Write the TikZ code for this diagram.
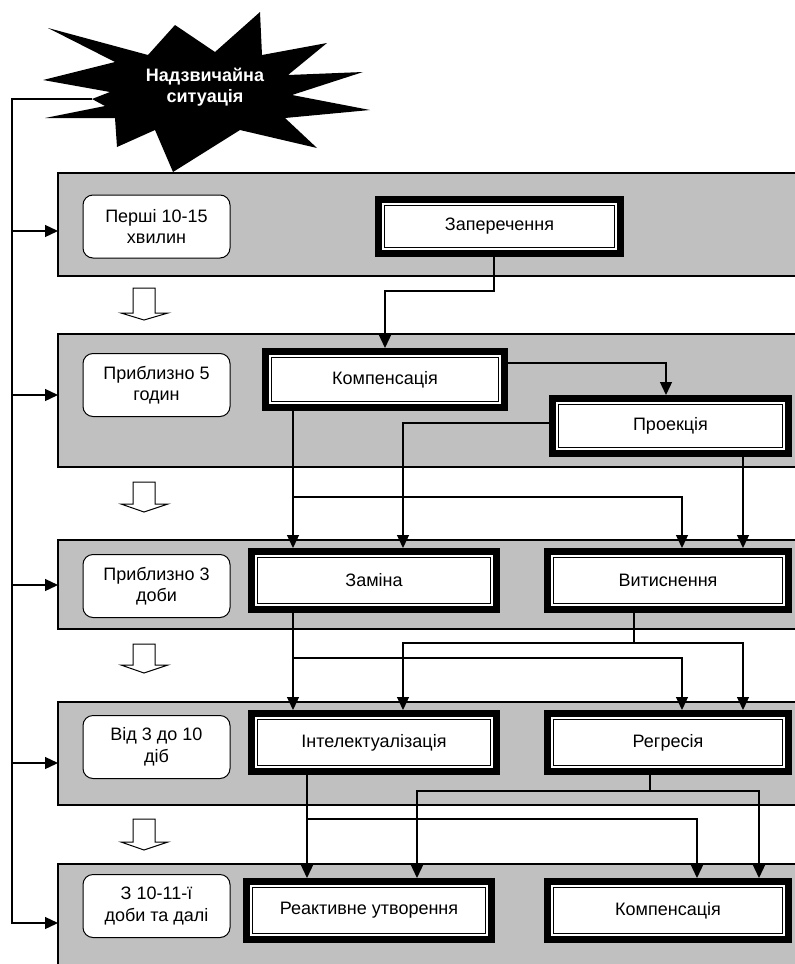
\documentclass[tikz,border=0pt]{standalone}
\usepackage{fontspec}
\setmainfont{Liberation Sans}
\usetikzlibrary{arrows.meta,calc}
\definecolor{bandgray}{RGB}{192,192,192}
\begin{document}
\begin{tikzpicture}[x=1pt,y=-1pt,
  every node/.style={font=\fontsize{18}{21.5}\selectfont},
  band/.style={rectangle, draw=black, fill=bandgray, line width=1.2pt, inner sep=0pt, outer sep=0pt, anchor=north west},
  tbox/.style={rectangle, draw=black, fill=white, rounded corners=10pt, line width=1pt, minimum width=147pt, minimum height=63pt, align=center, inner sep=0pt},
  mbox/.style={rectangle, inner sep=0pt, outer sep=9.5pt, fill=white, draw=black, line width=1pt, align=center,
    preaction={draw=black, line width=19pt},
    preaction={draw=white, line width=5pt}},
  conn/.style={draw=black, line width=1.3pt},
  arr/.style={conn, -{Triangle[length=13pt,width=12pt]}},
  hollow/.style={draw=black, fill=white, line width=1pt, line join=miter}
]
\useasboundingbox (0,0) rectangle (795,964);

% bands
\node[band, minimum width=745pt, minimum height=103pt] (b1) at (58,173) {};
\node[band, minimum width=745pt, minimum height=133pt] (b2) at (58,334) {};
\node[band, minimum width=745pt, minimum height=89pt] (b3) at (58,540) {};
\node[band, minimum width=745pt, minimum height=103pt] (b4) at (58,702) {};
\node[band, minimum width=745pt, minimum height=115pt] (b5) at (58,864) {};

% starburst
\fill[black] (48,28) -- (148,55) -- (175,25) -- (215,52) -- (260,12) -- (262,55) -- (327,43)
  -- (288,75) -- (363,72) -- (292,95) -- (370,110) -- (285,118) -- (317,148) -- (240,130)
  -- (173,172) -- (155,130) -- (117,147) -- (115,118) -- (45,118) -- (105,106) -- (92,99)
  -- (110,92) -- (43,80) -- (115,62) -- cycle;
\coordinate (burstL) at (92,99);
\node[font=\fontsize{18}{21.5}\selectfont\bfseries, text=white, align=center] (emerg) at (205,87) {Надзвичайна\\ситуація};

% time boxes
\node[tbox] (t1) at (156.5,226.5) {Перші 10-15\\хвилин};
\node[tbox] (t2) at (156.5,385) {Приблизно 5\\годин};
\node[tbox] (t3) at (156.5,586) {Приблизно 3\\доби};
\node[tbox] (t4) at (156.5,747) {Від 3 до 10\\діб};
\node[tbox] (t5) at (156.5,906) {З 10-11-ї\\доби та далі};

% mechanism boxes
\node[mbox, minimum width=230pt, minimum height=42pt] (zap) at (499.5,226.5) {Заперечення};
\node[mbox, minimum width=227pt, minimum height=44pt] (komp1) at (385,379.5) {Компенсація};
\node[mbox, minimum width=224pt, minimum height=43pt] (proek) at (670.5,426) {Проекція};
\node[mbox, minimum width=233pt, minimum height=46pt] (zamina) at (374,580.5) {Заміна};
\node[mbox, minimum width=229pt, minimum height=46pt] (vytys) at (668,580.5) {Витиснення};
\node[mbox, minimum width=233pt, minimum height=46pt] (intel) at (374,742.5) {Інтелектуалізація};
\node[mbox, minimum width=229pt, minimum height=46pt] (regr) at (668,742.5) {Регресія};
\node[mbox, minimum width=233pt, minimum height=46pt] (react) at (369,910.5) {Реактивне утворення};
\node[mbox, minimum width=229pt, minimum height=46pt] (komp2) at (668,910.5) {Компенсація};

% hollow block arrows
\draw[hollow] (133,288) -- (155,288) -- (155,313) -- (168,313) -- (144,320) -- (121,313) -- (133,313) -- cycle;
\draw[hollow] (133,482) -- (155,482) -- (155,504) -- (168,504) -- (144,512) -- (121,504) -- (133,504) -- cycle;
\draw[hollow] (133,644) -- (155,644) -- (155,665) -- (168,665) -- (144,673) -- (121,665) -- (133,665) -- cycle;
\draw[hollow] (133,819) -- (155,819) -- (155,842) -- (168,842) -- (144,850) -- (121,842) -- (133,842) -- cycle;

% left feed line
\draw[arr] (burstL) -- (12,99) -- (12,923) -- (b5.west |- 0,923);
\draw[arr] (12,231) -- (b1.west |- 0,231);
\draw[arr] (12,395) -- (b2.west |- 0,395);
\draw[arr] (12,585) -- (b3.west |- 0,585);
\draw[arr] (12,763) -- (b4.west |- 0,763);

% connectors
\draw[arr] (zap.south -| 494,0) -- (494,291) -| (komp1.north -| 385,0);
\draw[arr] (komp1.east |- 0,363) -| (proek.north -| 666,0);
\draw[arr] (komp1.south -| 293,0) -- (zamina.north -| 293,0);
\draw[arr] (293,497) -| (vytys.north -| 682,0);
\draw[arr] (proek.west |- 0,423) -| (zamina.north -| 403,0);
\draw[arr] (proek.south -| 743,0) -- (vytys.north -| 743,0);

\draw[arr] (zamina.south -| 293,0) -- (intel.north -| 293,0);
\draw[arr] (293,658) -| (regr.north -| 682,0);
\draw[conn] (vytys.south -| 634,0) -- (634,643);
\draw[arr] (634,643) -| (intel.north -| 403,0);
\draw[arr] (634,643) -| (regr.north -| 743,0);

\draw[arr] (intel.south -| 307,0) -- (react.north -| 307,0);
\draw[arr] (307,819) -| (komp2.north -| 697,0);
\draw[conn] (regr.south -| 650,0) -- (650,791);
\draw[arr] (650,791) -| (react.north -| 417,0);
\draw[arr] (650,791) -| (komp2.north -| 759,0);
\end{tikzpicture}
\end{document}
